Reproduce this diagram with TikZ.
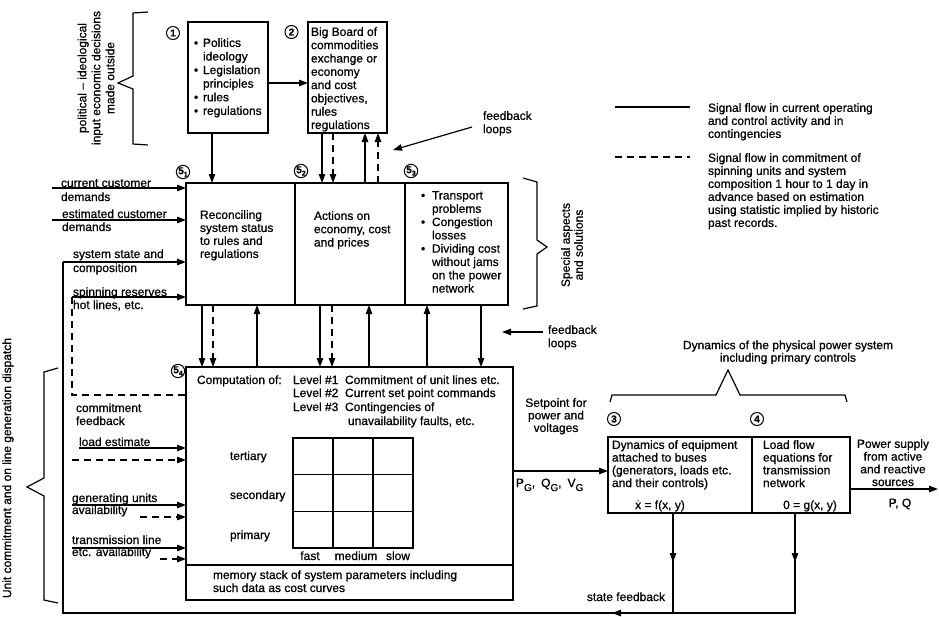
\documentclass[tikz,border=0pt]{standalone}
\usepackage{fontspec}
\setmainfont{Liberation Sans}[FakeBold=0.7]
\usetikzlibrary{arrows.meta}
\newcommand\mybul{\makebox[9pt][l]{•}}
\newcommand\myind{\hspace*{9pt}}
\newcommand\mybulb{\makebox[11pt][l]{•}}
\newcommand\myindb{\hspace*{11pt}}
\newcommand\subG{\raisebox{-4pt}{\fontsize{10}{10}\selectfont G}}
\newcommand\subn[1]{5\raisebox{-2.5pt}{\fontsize{7}{7}\selectfont #1}}
\begin{document}
\begin{tikzpicture}[x=1pt,y=-1pt,
  every node/.style={font=\fontsize{12}{13.3}\selectfont, inner sep=0pt, outer sep=0pt},
  blk/.style={draw, line width=1.2pt, anchor=north west},
  ln/.style={line width=1.2pt},
  dln/.style={line width=1.2pt, dash pattern=on 7pt off 5pt},
  arr/.style={line width=1.2pt, -{Triangle[length=9pt,width=6.5pt]}},
  darr/.style={dln, -{Triangle[length=9pt,width=6.5pt]}},
  num/.style={draw, circle, line width=1pt, minimum size=13pt, font=\fontsize{10}{10}\selectfont\bfseries},
  lbl/.style={anchor=base west},
  mtxt/.style={anchor=north west, align=left},
  brc/.style={line width=1.2pt, line join=miter},
]
\fill[white] (0,0) rectangle (939,616);
\useasboundingbox (0,0) rectangle (939,616);

% ---------- helper coordinates ----------
\foreach \v in {52,63,72,79,140,160,202,212,213,257,320,322,332,333,365,369,378,427,481,612,673,795,938}
  \coordinate (x\v) at (\v,0);
\foreach \v in {83,188,220,262,297,395,448,460,471,489,505,517,548,559,562,565,613}
  \coordinate (y\v) at (0,\v);

% ---------- boxes ----------
\node[blk, minimum width=80pt, minimum height=111pt] (b1) at (188,22) {};
\node[blk, minimum width=79pt, minimum height=111pt] (b2) at (308,22) {};
\node[blk, minimum width=109pt, minimum height=122pt] (b51) at (186,183) {};
\node[blk, minimum width=110pt, minimum height=122pt] (b52) at (295,183) {};
\node[blk, minimum width=103pt, minimum height=122pt] (b53) at (405,183) {};
\node[blk, minimum width=327pt, minimum height=233pt] (b54) at (186,367) {};
\node[blk, minimum width=144pt, minimum height=76pt] (b3) at (608,437) {};
\node[blk, minimum width=98pt, minimum height=76pt] (b4) at (752,437) {};
\draw[ln] (b54.west |- y565) -- (b54.east |- y565);

% ---------- number circles ----------
\node[num] (n1) at (173,33) {1};
\node[num] (n2) at (291.5,32) {2};
\node[num] (n51) at (183,172) {\subn{1}};
\node[num] (n52) at (301,171) {\subn{2}};
\node[num] (n53) at (411,171) {\subn{3}};
\node[num] (n54) at (178,371) {\subn{4}};
\node[num] (n3) at (614,419) {3};
\node[num] (n4) at (757,419) {4};

% ---------- box texts ----------
\node[mtxt, font=\fontsize{12}{13.6}\selectfont] (t1) at (194,38.2)
  {\mybul Politics\\\myind ideology\\\mybul Legislation\\\myind principles\\\mybul rules\\\mybul regulations};
\node[mtxt] (t2) at (311,27.2)
  {Big Board of\\commodities\\exchange or\\economy\\and cost\\objectives,\\rules\\regulations};
\node[mtxt, font=\fontsize{12}{13}\selectfont] (t51) at (200,210.2)
  {Reconciling\\system status\\to rules and\\regulations};
\node[mtxt, font=\fontsize{12}{13.3}\selectfont] (t52) at (314,211.2)
  {Actions on\\economy, cost\\and prices};
\node[mtxt] (t53) at (421,191.2)
  {\mybulb Transport\\\myindb problems\\\mybulb Congestion\\\myindb losses\\\mybulb Dividing cost\\\myindb without jams\\\myindb on the power\\\myindb network};

\node[lbl] (c1) at (197,384) {Computation of:};
\node[lbl] (l1) at (293,384) {Level \#1};
\node[lbl] (d1) at (345,384) {Commitment of unit lines etc.};
\node[lbl] (l2) at (293,397) {Level \#2};
\node[lbl] (d2) at (345,397) {Current set point commands};
\node[lbl] (l3) at (293,411) {Level \#3};
\node[lbl] (d3) at (345,411) {Contingencies of};
\node[lbl] (d3b) at (348,425) {unavailability faults, etc.};

% grid
\draw[ln] (293,438) rectangle (413,548);
\foreach \gx in {333,373} \draw[ln] (\gx,438) -- (\gx,548);
\foreach \gy in {474.7,511.3} \draw[ln] (293,\gy) -- (413,\gy);
\node[lbl] (ter) at (230,460) {tertiary};
\node[lbl] (sec) at (230,499) {secondary};
\node[lbl] (pri) at (230,539) {primary};
\node[anchor=base] (fa) at (310,560) {fast};
\node[anchor=base] (me) at (356,560) {medium};
\node[anchor=base] (sl) at (398,560) {slow};
\node[lbl] (m1) at (213,579) {memory stack of system parameters including};
\node[lbl] (m2) at (213,592) {such data as cost curves};

\node[mtxt, font=\fontsize{12}{12.7}\selectfont] (t3) at (612,440.2)
  {Dynamics of equipment\\attached to buses\\(generators, loads etc.\\and their controls)};
\node[anchor=base] (f3) at (660,509) {\.{x} = f(x, y)};
\node[mtxt, font=\fontsize{12}{12.7}\selectfont] (t4) at (763,440.2)
  {Load flow\\equations for\\transmission\\network};
\node[anchor=base] (f4) at (810,509) {0 = g(x, y)};
\node[anchor=north, align=center, font=\fontsize{12}{12.7}\selectfont] (ps) at (893,439.2)
  {Power supply\\from active\\and reactive\\sources};
\node[anchor=base] (pq) at (900,507) {P, Q};

% ---------- legend ----------
\coordinate (lg1a) at (615,107); \coordinate (lg1b) at (690,107);
\coordinate (lg2a) at (615,157); \coordinate (lg2b) at (690,157);
\draw[ln] (lg1a) -- (lg1b);
\draw[dln] (lg2a) -- (lg2b);
\node[mtxt, font=\fontsize{12}{13}\selectfont] (lg1) at (708,103.2)
  {Signal flow in current operating\\and control activity and in\\contingencies};
\node[mtxt, font=\fontsize{12}{13}\selectfont] (lg2) at (708,153.2)
  {Signal flow in commitment of\\spinning units and system\\composition 1 hour to 1 day in\\advance based on estimation\\using statistic implied by historic\\past records.};

% ---------- side labels ----------
\node[rotate=90, align=center, font=\fontsize{12}{14}\selectfont] (pol) at (96,78)
  {political – ideological\\input economic decisions\\made outside};
\draw[brc] (148,12) -- (133,13) -- (133,76) -- (118,83) -- (133,89) -- (133,144) -- (148,145);

\node[rotate=90, align=center, font=\fontsize{12}{13}\selectfont] (spa) at (572,245)
  {Special aspects\\and solutions};
\draw[brc] (523,178) -- (537,182) -- (537,240) -- (547,247) -- (537,254) -- (537,306) -- (523,309);

\node[align=center, anchor=north, font=\fontsize{12}{12.5}\selectfont] (dyn) at (788,340.5)
  {Dynamics of the physical power system\\including primary controls};
\draw[brc] (610,402) -- (612,395) -- (716,395) -- (728,370) -- (740,395) -- (845,395) -- (847,402);

\node[rotate=90] (ucd) at (8,468) {Unit commitment and on line generation dispatch};
\draw[brc] (58,368) -- (44,372) -- (44,478) -- (27,487) -- (44,496) -- (44,600) -- (58,603);

\node[mtxt] (fb1) at (483,111.2) {feedback\\loops};
\coordinate (fbs1) at (472,127); \coordinate (fbt1) at (393,150);
\draw[arr] (fbs1) -- (fbt1);
\node[mtxt] (fb2) at (548,325.2) {feedback\\loops};
\coordinate (fbs2) at (543,332); \coordinate (fbt2) at (502,332);
\draw[arr] (fbs2) -- (fbt2);

\node[align=center, anchor=north, font=\fontsize{12}{12.5}\selectfont] (sp) at (556,398.2)
  {Setpoint for\\power and\\voltages};
\node[lbl] (pg) at (516,487) {P\subG,\hspace{6pt}Q\subG,\hspace{6pt}V\subG};
\node[anchor=base] (sfb) at (626,601) {state feedback};

% ---------- left input labels ----------
\node[lbl] (i1a) at (61,187) {current customer};
\node[lbl] (i1b) at (61,201) {demands};
\node[lbl] (i2a) at (62,218) {estimated customer};
\node[lbl] (i2b) at (62,231) {demands};
\node[lbl] (i3a) at (73,258) {system state and};
\node[lbl] (i3b) at (73,272) {composition};
\node[lbl] (i4a) at (73,296) {spinning reserves};
\node[lbl] (i4b) at (73,309) {hot lines, etc.};
\node[lbl] (cf1) at (76,412) {commitment};
\node[lbl] (cf2) at (76,425) {feedback};
\node[lbl] (i5) at (79,446) {load estimate};
\node[lbl] (i6a) at (72,502) {generating units};
\node[lbl] (i6b) at (72,514) {availability};
\node[lbl] (i7a) at (72,544) {transmission line};
\node[lbl] (i7b) at (72,556) {etc. availability};

% ---------- connectors ----------
\draw[arr] (b1.east |- y83) -- (b2.west |- y83);
\draw[arr] (b1.south -| x212) -- (b51.north -| x212);
\draw[arr] (b2.south -| x322) -- (b52.north -| x322);
\draw[darr] (b2.south -| x333) -- (b52.north -| x333);
\draw[arr] (b52.north -| x365) -- (b2.south -| x365);
\draw[darr] (b52.north -| x378) -- (b2.south -| x378);

\draw[arr] (b51.south -| x202) -- (b54.north -| x202);
\draw[darr] (b51.south -| x213) -- (b54.north -| x213);
\draw[arr] (b54.north -| x257) -- (b51.south -| x257);
\draw[arr] (b52.south -| x320) -- (b54.north -| x320);
\draw[darr] (b52.south -| x332) -- (b54.north -| x332);
\draw[arr] (b54.north -| x369) -- (b52.south -| x369);
\draw[arr] (b54.north -| x427) -- (b53.south -| x427);
\draw[arr] (b53.south -| x481) -- (b54.north -| x481);

\draw[arr] (x52 |- y188) -- (b51.west |- y188);
\draw[arr] (x52 |- y220) -- (b51.west |- y220);
\draw[arr] (x63 |- y262) -- (b51.west |- y262);
\draw[arr] (x72 |- y297) -- (b51.west |- y297);
\draw[dln] (x72 |- y297) -- (x72 |- y395) -- (b54.west |- y395);

\draw[arr] (x79 |- y448) -- (b54.west |- y448);
\draw[darr] (x72 |- y460) -- (b54.west |- y460);
\draw[arr] (x72 |- y505) -- (b54.west |- y505);
\draw[darr] (x140 |- y517) -- (b54.west |- y517);
\draw[arr] (x72 |- y548) -- (b54.west |- y548);
\draw[darr] (x160 |- y559) -- (b54.west |- y559);

\draw[arr] (b54.east |- y471) -- (b3.west |- y471);
\draw[arr] (b4.east |- y489) -- (x938 |- y489);

\draw[ln] (b3.south -| x673) -- (x673 |- y613);
\draw[arr] (b3.south -| x673) -- (x673 |- y562);
\draw[ln] (b4.south -| x795) -- (x795 |- y613) -- (x63 |- y613) -- (x63 |- y262);
\draw[arr] (b4.south -| x795) -- (x795 |- y562);
\draw[arr] (x795 |- y613) -- (x612 |- y613);
\end{tikzpicture}
\end{document}
